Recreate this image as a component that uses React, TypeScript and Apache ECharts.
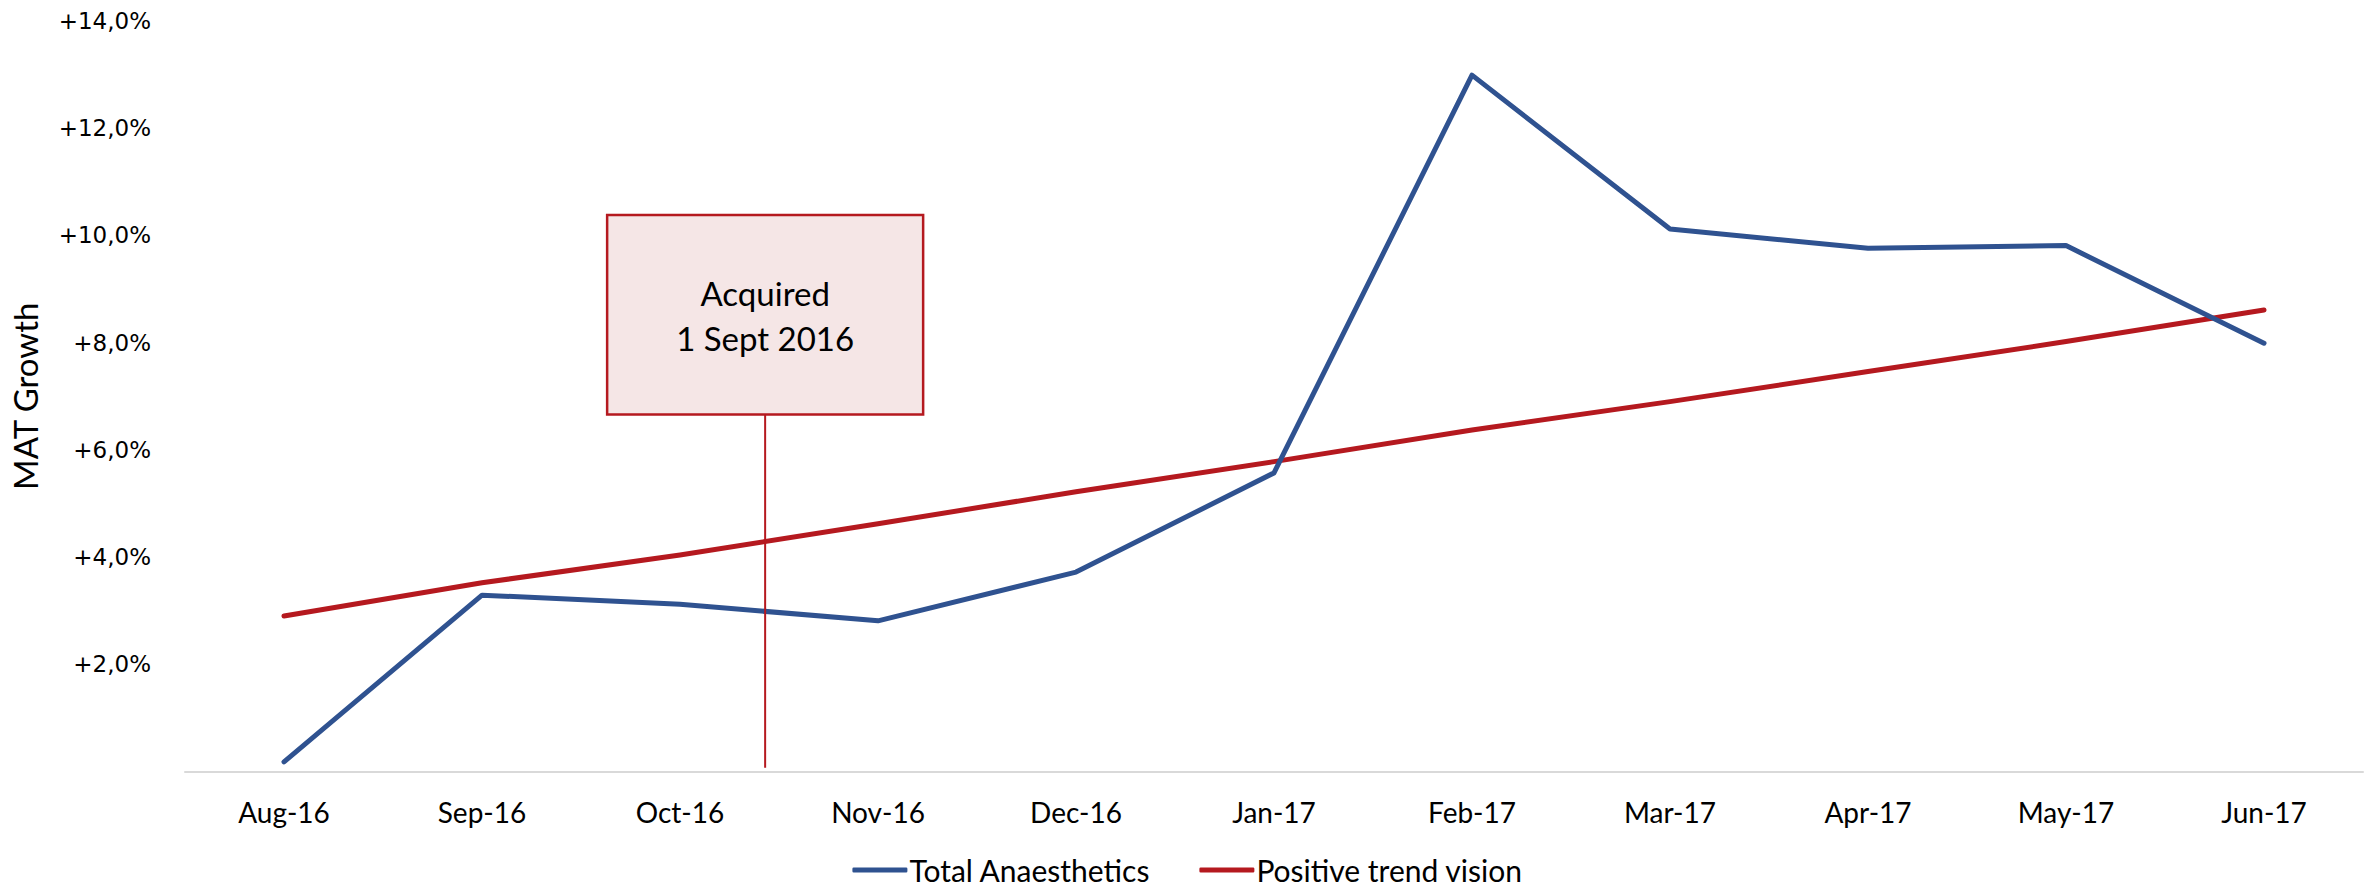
import React, { useEffect, useRef } from "react";
import * as echarts from "echarts";

const categories = ["Aug-16", "Sep-16", "Oct-16", "Nov-16", "Dec-16", "Jan-17", "Feb-17", "Mar-17", "Apr-17", "May-17", "Jun-17"];
const totalAnaesthetics = [0.18, 3.29, 3.12, 2.81, 3.72, 5.57, 12.99, 10.12, 9.76, 9.81, 7.99];
const positiveTrend = [2.9, 3.52, 4.04, 4.62, 5.22, 5.78, 6.37, 6.9, 7.46, 8.02, 8.61];
const yTicks = [0, 2, 4, 6, 8, 10, 12, 14];

// Annotation: acquisition marker between Oct-16 and Nov-16
const acquiredFromIndex = 2;
const acquiredFraction = 0.43;
const acquiredBoxTop = 10.38;
const acquiredBoxBottom = 6.66;
const acquiredLineBottom = 0.07;
const acquiredText = "Acquired\n1 Sept 2016";

const BLUE = "#2F5290";
const RED = "#B5191F";

export default function App() {
  const ref = useRef<HTMLDivElement>(null);

  useEffect(() => {
    if (!ref.current) return;
    const chart = echarts.init(ref.current, undefined, { renderer: "svg" });
    const fmt = (v: number) => (v === 0 ? "" : "+" + v.toFixed(1).replace(".", ",") + "%");
    chart.setOption({
      animation: false,
      backgroundColor: "#ffffff",
      grid: { left: 185, right: 12, top: 21, bottom: 119.5, containLabel: false },
      legend: {
        bottom: 1,
        left: "center",
        itemWidth: 55,
        itemHeight: 5,
        itemGap: 49,
        icon: "roundRect",
        textStyle: { fontFamily: "Lato", fontSize: 30, color: "#000", padding: [0, 0, 0, -3] },
        data: ["Total Anaesthetics", "Positive trend vision"],
      },
      xAxis: {
        type: "category",
        data: categories,
        boundaryGap: true,
        axisLine: { show: true, lineStyle: { color: "#D9D9D9", width: 2 } },
        axisTick: { show: false },
        axisLabel: { fontFamily: "Lato", fontSize: 28, color: "#000", margin: 26 },
        splitLine: { show: false },
      },
      yAxis: {
        type: "value",
        min: yTicks[0],
        max: yTicks[yTicks.length - 1],
        interval: 2,
        name: "MAT Growth",
        nameLocation: "middle",
        nameGap: 144,
        nameTextStyle: { fontFamily: "Lato", fontSize: 33, color: "#000" },
        axisLine: { show: false },
        axisTick: { show: false },
        splitLine: { show: false },
        axisLabel: { formatter: fmt, fontFamily: "DejaVu Sans", fontSize: 23, color: "#000", margin: 34 },
      },
      series: [
        {
          name: "Total Anaesthetics",
          type: "line",
          data: totalAnaesthetics,
          symbol: "none",
          itemStyle: { color: BLUE },
          lineStyle: { color: BLUE, width: 5, cap: "round", join: "round" },
          z: 3,
        },
        {
          name: "Positive trend vision",
          type: "line",
          data: positiveTrend,
          symbol: "none",
          itemStyle: { color: RED },
          lineStyle: { color: RED, width: 5, cap: "round", join: "round" },
          z: 2,
        },
      ],
    });

    const xa = chart.convertToPixel({ xAxisIndex: 0 }, acquiredFromIndex) as number;
    const xb = chart.convertToPixel({ xAxisIndex: 0 }, acquiredFromIndex + 1) as number;
    const xLine = xa + (xb - xa) * acquiredFraction;
    const yTop = chart.convertToPixel({ yAxisIndex: 0 }, acquiredBoxTop) as number;
    const yBot = chart.convertToPixel({ yAxisIndex: 0 }, acquiredBoxBottom) as number;
    const yEnd = chart.convertToPixel({ yAxisIndex: 0 }, acquiredLineBottom) as number;
    const boxW = 316;

    chart.setOption({
      graphic: [
        {
          type: "line",
          z: 10,
          shape: { x1: xLine, y1: yBot, x2: xLine, y2: yEnd },
          style: { stroke: RED, lineWidth: 2 },
        },
        {
          type: "rect",
          z: 11,
          shape: { x: xLine - boxW / 2, y: yTop, width: boxW, height: yBot - yTop },
          style: { fill: "#F5E6E6", stroke: RED, lineWidth: 2.5 },
        },
        {
          type: "text",
          z: 12,
          x: xLine,
          y: (yTop + yBot) / 2 + 1,
          style: {
            text: acquiredText,
            fontFamily: "Lato",
            fontSize: 33,
            lineHeight: 45,
            fill: "#000",
            align: "center",
            verticalAlign: "middle",
          },
        },
      ],
    });

    return () => chart.dispose();
  }, []);

  return (
    <div
      ref={ref}
      style={{ position: "fixed", left: 0, top: 0, width: 2375, height: 891, background: "#fff" }}
    />
  );
}
